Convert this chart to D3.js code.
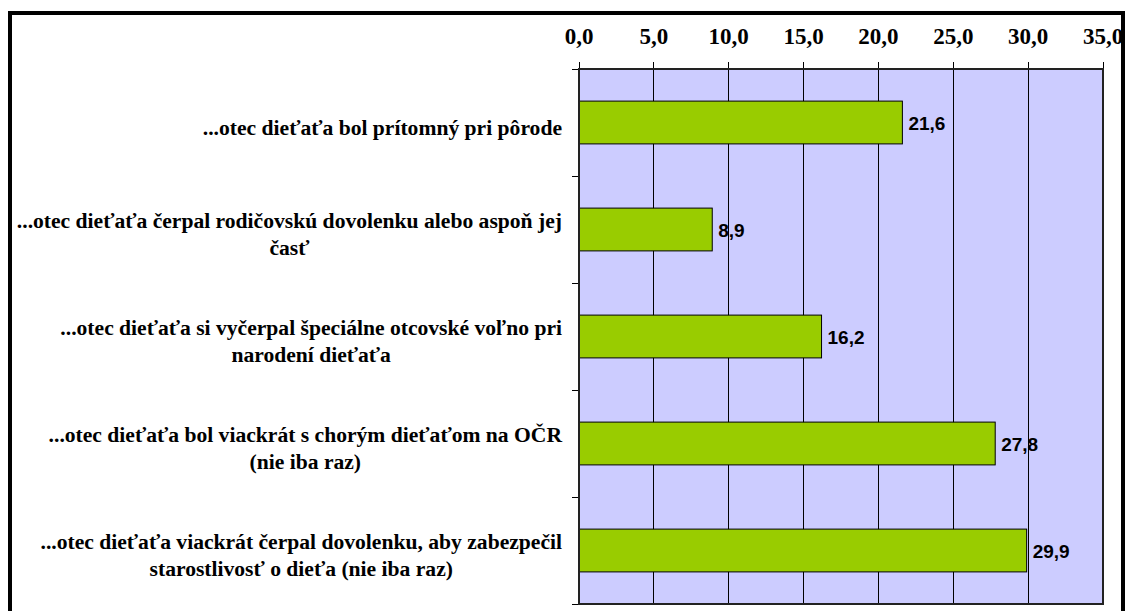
<!DOCTYPE html>
<html>
<head>
<meta charset="utf-8">
<script src="https://cdn.jsdelivr.net/npm/d3@7"></script>
<style>
  html, body { margin: 0; padding: 0; background: #fff; }
  svg { display: block; }
</style>
</head>
<body>
<svg id="chart" width="1125" height="611"></svg>
<script>
const categories = [
  ["...otec dieťaťa bol prítomný pri pôrode"],
  ["...otec dieťaťa čerpal rodičovskú dovolenku alebo aspoň jej", "časť"],
  ["...otec dieťaťa si vyčerpal špeciálne otcovské voľno pri", "narodení dieťaťa"],
  ["...otec dieťaťa bol viackrát s chorým dieťaťom na OČR", "(nie iba raz)"],
  ["...otec dieťaťa viackrát čerpal dovolenku, aby zabezpečil", "starostlivosť o dieťa (nie iba raz)"]
];
const values = [21.6, 8.9, 16.2, 27.8, 29.9];
const tickValues = [0, 5, 10, 15, 20, 25, 30, 35];
const tickLabels = ["0,0", "5,0", "10,0", "15,0", "20,0", "25,0", "30,0", "35,0"];
const valueLabels = ["21,6", "8,9", "16,2", "27,8", "29,9"];

const svg = d3.select("#chart");
const plot = { left: 579, right: 1103, top: 69, bottom: 604 };
const serif = "'Liberation Serif', 'Times New Roman', Times, serif";

// outer frame
svg.append("rect")
  .attr("x", 10).attr("y", 13)
  .attr("width", 1113).attr("height", 640)
  .attr("fill", "#fff").attr("stroke", "#000").attr("stroke-width", 4);

const x = d3.scaleLinear().domain([0, 35]).range([plot.left, plot.right]);
const yBand = d3.scaleBand().domain(d3.range(categories.length))
  .range([plot.top, plot.bottom]).paddingInner(0).paddingOuter(0);
const y = d3.scaleBand().domain(d3.range(categories.length))
  .range([plot.top, plot.bottom]).paddingInner(0.6).paddingOuter(0.3);

// plot background
svg.append("rect")
  .attr("x", plot.left).attr("y", plot.top)
  .attr("width", plot.right - plot.left).attr("height", plot.bottom - plot.top)
  .attr("fill", "#CCCCFF");

// gridlines + top ticks
svg.append("g").selectAll("line").data(tickValues).join("line")
  .attr("x1", d => x(d)).attr("x2", d => x(d))
  .attr("y1", plot.top - 7).attr("y2", plot.bottom)
  .attr("stroke", "#000").attr("stroke-width", 1)
  .attr("shape-rendering", "crispEdges");

// tick labels
svg.append("g").selectAll("text").data(tickValues).join("text")
  .attr("x", d => x(d)).attr("y", 44)
  .attr("text-anchor", "middle")
  .attr("font-family", serif)
  .attr("font-weight", "bold").attr("font-size", 23)
  .text((d, i) => tickLabels[i]);

// left ticks at band boundaries
const boundaries = d3.range(categories.length + 1).map(i => plot.top + i * yBand.step());
svg.append("g").selectAll("line").data(boundaries).join("line")
  .attr("x1", plot.left - 7).attr("x2", plot.left)
  .attr("y1", d => d).attr("y2", d => d)
  .attr("stroke", "#000").attr("stroke-width", 1)
  .attr("shape-rendering", "crispEdges");

// bars
svg.append("g").selectAll("rect").data(values).join("rect")
  .attr("x", x(0)).attr("y", (d, i) => y(i))
  .attr("width", d => x(d) - x(0)).attr("height", y.bandwidth())
  .attr("fill", "#99CC00").attr("stroke", "#000").attr("stroke-width", 1);

// plot border
svg.append("rect")
  .attr("x", plot.left).attr("y", plot.top)
  .attr("width", plot.right - plot.left).attr("height", plot.bottom - plot.top)
  .attr("fill", "none").attr("stroke", "#222").attr("stroke-width", 2);

// value labels
svg.append("g").selectAll("text").data(values).join("text")
  .attr("x", d => x(d) + 6)
  .attr("y", (d, i) => y(i) + y.bandwidth() / 2 + 7)
  .attr("font-family", "'Liberation Sans', Arial, sans-serif")
  .attr("font-weight", "bold").attr("font-size", 19)
  .text((d, i) => valueLabels[i]);

// category labels
const labelRight = 562;
const lineH = 26.5;
categories.forEach((lines, i) => {
  const g = svg.append("g");
  const cy = yBand(i) + yBand.bandwidth() / 2 + 5;
  const texts = lines.map((t, j) => g.append("text")
    .attr("font-family", serif)
    .attr("font-weight", "bold").attr("font-size", 21.6)
    .attr("text-anchor", "middle")
    .attr("y", cy - (lines.length - 1) * lineH / 2 + j * lineH + 7)
    .text(t));
  const w = d3.max(texts, t => t.node().getComputedTextLength());
  texts.forEach(t => t.attr("x", labelRight - w / 2));
});
</script>
</body>
</html>
